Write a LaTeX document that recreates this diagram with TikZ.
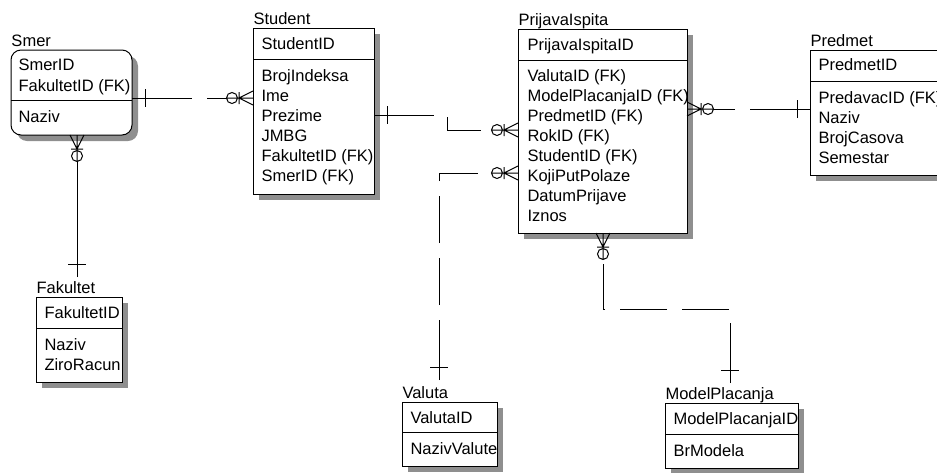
\documentclass[tikz,border=0pt]{standalone}
\usepackage{fontspec}
\setmainfont{Liberation Sans}
\usetikzlibrary{calc, positioning, shadows}

\definecolor{shadowgray}{gray}{0.56}

\tikzset{
  entity/.style={draw, fill=white, anchor=north west, inner sep=0pt, outer sep=0pt,
    drop shadow={shadow xshift=6pt, shadow yshift=-6pt, fill=shadowgray, opacity=1}},
  enttitle/.style={anchor=base west, inner sep=0pt},
  attr/.style={anchor=base west, inner sep=0pt},
  nonident/.style={dash pattern=on 47pt off 15pt},
  % parent end: exactly one
  onebar/.pic={\draw (0,0) -- (13,0) (13,-9) -- (13,9);},
  % child end: zero or more
  zeromany/.pic={\draw (0,7) -- (14,0) -- (0,-7) (0,0) -- (26,0) (14,-6) -- (14,6)
    (21,0) circle[radius=5.5pt];},
}

\begin{document}
\begin{tikzpicture}[x=1pt, y=-1pt, line width=1pt, font=\fontsize{16.5}{20}\selectfont]
    \useasboundingbox (0,0) rectangle (937,472);
    \clip (0,0) rectangle (937,472);

    % Smer (dependent entity, rounded)
    \node[entity, rounded corners=10pt, minimum width=121pt, minimum height=85pt] (smer) at (11,50) {};
    \node[enttitle] (smer-title) at ($(smer.north west)+(0,-4)$) {Smer};
    \draw (smer.north west) ++(0,50) coordinate (smer-div) -- (smer-div -| smer.east);
    \foreach \a [count=\i from 0] in {SmerID, FakultetID (FK)}
        \node[attr] (smer-k\i) at ($(smer.north west)+(7,20+21*\i)$) {\a};
    \node[attr] (smer-a0) at ($(smer-div)+(7,22)$) {Naziv};

    % Student
    \node[entity, minimum width=121pt, minimum height=166pt] (student) at (253,28) {};
    \node[enttitle] (student-title) at ($(student.north west)+(0,-4)$) {Student};
    \draw (student.north west) ++(0,31) coordinate (student-div) -- (student-div -| student.east);
    \node[attr] (student-k0) at ($(student.north west)+(8,21)$) {StudentID};
    \foreach \a [count=\i from 0] in {BrojIndeksa, Ime, Prezime, JMBG, FakultetID (FK), SmerID (FK)}
        \node[attr] (student-a\i) at ($(student-div)+(8,22+20*\i)$) {\a};

    % PrijavaIspita
    \node[entity, minimum width=169pt, minimum height=204pt] (prijava) at (518,29) {};
    \node[enttitle] (prijava-title) at ($(prijava.north west)+(0,-4)$) {PrijavaIspita};
    \draw (prijava.north west) ++(0,31) coordinate (prijava-div) -- (prijava-div -| prijava.east);
    \node[attr] (prijava-k0) at ($(prijava.north west)+(9,21)$) {PrijavaIspitaID};
    \foreach \a [count=\i from 0] in {ValutaID (FK), ModelPlacanjaID (FK), PredmetID (FK), RokID (FK),
        StudentID (FK), KojiPutPolaze, DatumPrijave, Iznos}
        \node[attr] (prijava-a\i) at ($(prijava-div)+(9,21+20*\i)$) {\a};

    % Predmet (runs off the right edge)
    \node[entity, minimum width=140pt, minimum height=125pt] (predmet) at (810,50) {};
    \node[enttitle] (predmet-title) at ($(predmet.north west)+(0,-4)$) {Predmet};
    \draw (predmet.north west) ++(0,31) coordinate (predmet-div) -- (predmet-div -| predmet.east);
    \node[attr] (predmet-k0) at ($(predmet.north west)+(8,20)$) {PredmetID};
    \foreach \a [count=\i from 0] in {PredavacID (FK), Naziv, BrojCasova, Semestar}
        \node[attr] (predmet-a\i) at ($(predmet-div)+(8,22+20*\i)$) {\a};

    % Fakultet
    \node[entity, minimum width=86pt, minimum height=85pt] (fakultet) at (36,297) {};
    \node[enttitle] (fakultet-title) at ($(fakultet.north west)+(0,-4)$) {Fakultet};
    \draw (fakultet.north west) ++(0,31) coordinate (fakultet-div) -- (fakultet-div -| fakultet.east);
    \node[attr] (fakultet-k0) at ($(fakultet.north west)+(8,21)$) {FakultetID};
    \foreach \a [count=\i from 0] in {Naziv, ZiroRacun}
        \node[attr] (fakultet-a\i) at ($(fakultet-div)+(8,22+20*\i)$) {\a};

    % Valuta
    \node[entity, minimum width=95pt, minimum height=64pt] (valuta) at (402,402) {};
    \node[enttitle] (valuta-title) at ($(valuta.north west)+(0,-4)$) {Valuta};
    \draw (valuta.north west) ++(0,30) coordinate (valuta-div) -- (valuta-div -| valuta.east);
    \node[attr] (valuta-k0) at ($(valuta.north west)+(8,21)$) {ValutaID};
    \node[attr] (valuta-a0) at ($(valuta-div)+(8,22)$) {NazivValute};

    % ModelPlacanja
    \node[entity, minimum width=133pt, minimum height=65pt] (model) at (665,403) {};
    \node[enttitle] (model-title) at ($(model.north west)+(0,-4)$) {ModelPlacanja};
    \draw (model.north west) ++(0,31) coordinate (model-div) -- (model-div -| model.east);
    \node[attr] (model-k0) at ($(model.north west)+(8,21)$) {ModelPlacanjaID};
    \node[attr] (model-a0) at ($(model-div)+(8,22)$) {BrModela};

    % Smer -> Student
    \coordinate (smer-r) at ($(smer.north east)+(0,48)$);
    \coordinate (student-l) at (smer-r -| student.west);
    \pic at (smer-r) {onebar};
    \pic[rotate=180] at (student-l) {zeromany};
    \draw[nonident] ($(smer-r)+(13,0)$) -- ($(student-l)+(-26,0)$);

    % Student -> PrijavaIspita
    \coordinate (student-r) at ($(student.north east)+(0,87)$);
    \coordinate (prijava-l1) at ($(prijava.north west)+(0,101)$);
    \pic at (student-r) {onebar};
    \pic[rotate=180] at (prijava-l1) {zeromany};
    \draw[nonident] ($(student-r)+(13,0)$) -- ++(60,0) |- ($(prijava-l1)+(-26,0)$);

    % Valuta -> PrijavaIspita
    \coordinate (valuta-t) at ($(valuta.north west)+(37,-22)$);
    \coordinate (prijava-l2) at ($(prijava.north west)+(0,144)$);
    \pic[rotate=90] at (valuta-t) {onebar};
    \pic[rotate=180] at (prijava-l2) {zeromany};
    \draw[nonident] ($(valuta-t)+(0,-13)$) |- ($(prijava-l2)+(-26,0)$);

    % ModelPlacanja -> PrijavaIspita
    \coordinate (model-t) at ($(model.north west)+(65,-20)$);
    \coordinate (prijava-b) at ($(prijava.south west)+(85,0)$);
    \pic[rotate=90] at (model-t) {onebar};
    \pic[rotate=-90] at (prijava-b) {zeromany};
    \draw[nonident] ($(model-t)+(0,-13)$) -- ++(0,-61) -| ($(prijava-b)+(0,26)$);

    % Predmet -> PrijavaIspita
    \coordinate (predmet-l) at ($(predmet.north west)+(0,59)$);
    \coordinate (prijava-r) at (predmet-l -| prijava.east);
    \pic[rotate=180] at (predmet-l) {onebar};
    \pic at (prijava-r) {zeromany};
    \draw[nonident] ($(predmet-l)+(-13,0)$) -- ($(prijava-r)+(26,0)$);

    % Fakultet -> Smer (identifying, solid)
    \coordinate (fakultet-t) at ($(fakultet.north west)+(41,-20)$);
    \coordinate (smer-b) at (fakultet-t |- smer.south);
    \pic[rotate=90] at (fakultet-t) {onebar};
    \pic[rotate=-90] at (smer-b) {zeromany};
    \draw ($(fakultet-t)+(0,-13)$) -- ($(smer-b)+(0,26)$);
\end{tikzpicture}
\end{document}
